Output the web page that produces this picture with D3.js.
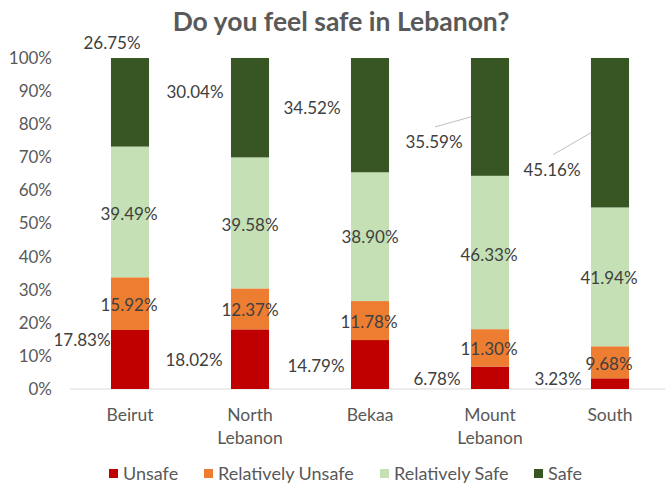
<!DOCTYPE html>
<html>
<head>
<meta charset="utf-8">
<script src="https://cdn.jsdelivr.net/npm/d3@7"></script>
<style>
  body { margin: 0; background: #fff; }
  text { font-family: Lato, "Open Sans", sans-serif; }
</style>
</head>
<body>
<div id="container"></div>
<script>
// data
var regions = ["Beirut", "North Lebanon", "Bekaa", "Mount Lebanon", "South"]
var regionLines = [["Beirut"], ["North", "Lebanon"], ["Bekaa"], ["Mount", "Lebanon"], ["South"]]
var seriesNames = ["Unsafe", "Relatively Unsafe", "Relatively Safe", "Safe"]
var unsafe = [17.83, 18.02, 14.79, 6.78, 3.23]
var relUnsafe = [15.92, 12.37, 11.78, 11.30, 9.68]
var relSafe = [39.49, 39.58, 38.90, 46.33, 41.94]
var safe = [26.75, 30.04, 34.52, 35.59, 45.16]
var yTicks = [0, 10, 20, 30, 40, 50, 60, 70, 80, 90, 100]

// label placement (excel "best fit" style), offsets from segment centre
var labelNudge = [
  [[-48, -20], [-56, 1], [-54, 1], [-53, 1], [-52, -5]],
  [[-1, 1], [0, 1], [-1, 1], [-1, 1], [-1, 2]],
  [[-1, 2], [0, 2], [0, 0], [-1, 2], [-1, 1]],
  [[-18, -59], [-55, -16], [-58, -7], [-56, 25], [-58, 37]]
]
var leaderLines = [[], [], [], [false, false, false, true, true]]

var colors = ["#c00000", "#ed7d31", "#c5e0b4", "#375623"]

var width = 665, height = 484
var margin = { top: 58, left: 70, right: -5, bottom: 95 }

var svg = d3.select("#container").append("svg")
  .attr("width", width)
  .attr("height", height)

var table = regions.map(function(r, i) {
  return { region: r, "Unsafe": unsafe[i], "Relatively Unsafe": relUnsafe[i], "Relatively Safe": relSafe[i], "Safe": safe[i] }
})

var x = d3.scaleBand()
  .domain(regions)
  .range([margin.left, width - margin.right])
  .paddingInner(0.683)
  .paddingOuter(0.3415)

var y = d3.scaleLinear()
  .domain([0, 100])
  .range([height - margin.bottom, margin.top])

// title
svg.append("text")
  .text("Do you feel safe in Lebanon?")
  .attr("x", 341)
  .attr("y", 31)
  .attr("text-anchor", "middle")
  .attr("font-weight", "bold")
  .attr("font-size", 26.5)
  .attr("fill", "#595959")

// y axis labels
var yAxis = d3.axisLeft(y).tickValues(yTicks).tickSize(0).tickPadding(18)
  .tickFormat(function(d) { return d + "%" })
svg.append("g")
  .attr("transform", "translate(" + margin.left + ",0)")
  .call(yAxis)
  .call(function(g) { g.select(".domain").remove() })
  .selectAll("text")
  .attr("font-size", 17)
  .attr("fill", "#595959")
  .attr("font-family", "Lato, 'Open Sans', sans-serif")

// baseline
svg.append("line")
  .attr("x1", margin.left).attr("x2", width)
  .attr("y1", y(0)).attr("y2", y(0))
  .attr("stroke", "#d9d9d9")
  .attr("stroke-width", 1)

var stack = d3.stack().keys(seriesNames)
var layers = stack(table)

svg.selectAll(".layer")
  .data(layers)
  .enter().append("g")
  .attr("class", "layer")
  .attr("fill", function(d, i) { return colors[i] })
  .selectAll("rect")
  .data(function(d) { return d })
  .enter().append("rect")
  .attr("x", function(d) { return x(d.data.region) })
  .attr("width", x.bandwidth())
  .attr("y", function(d) { return y(d[1]) })
  .attr("height", function(d) { return y(d[0]) - y(d[1]) })

// data labels
layers.forEach(function(layer, si) {
  layer.forEach(function(d, ri) {
    var cx = x(d.data.region) + x.bandwidth() / 2
    var cy = y((d[0] + d[1]) / 2)
    var lx = cx + labelNudge[si][ri][0]
    var ly = cy + labelNudge[si][ri][1]
    if (leaderLines[si][ri]) {
      svg.append("line")
        .attr("x1", lx + 1).attr("y1", ly - 15)
        .attr("x2", x(d.data.region)).attr("y2", cy)
        .attr("stroke", "#bfbfbf")
        .attr("stroke-width", 1)
    }
    svg.append("text")
      .text(d.data[layer.key].toFixed(2) + "%")
      .attr("x", lx)
      .attr("y", ly)
      .attr("dy", "0.36em")
      .attr("text-anchor", "middle")
      .attr("font-size", 17)
      .attr("fill", "#404040")
  })
})

// category labels
regionLines.forEach(function(lines, i) {
  var t = svg.append("text")
    .attr("text-anchor", "middle")
    .attr("font-size", 17.5)
    .attr("fill", "#595959")
  lines.forEach(function(l, k) {
    t.append("tspan")
      .attr("x", x(regions[i]) + x.bandwidth() / 2)
      .attr("y", 415 + k * 23)
      .attr("dy", "0.36em")
      .text(l)
  })
})

// legend
var legendX = [109, 204, 380, 534]
var legend = svg.selectAll(".legend")
  .data(seriesNames)
  .enter().append("g")
  .attr("class", "legend")
  .attr("transform", function(d, i) { return "translate(" + legendX[i] + ",469)" })

legend.append("rect")
  .attr("width", 9).attr("height", 9)
  .attr("fill", function(d, i) { return colors[i] })

legend.append("text")
  .text(function(d) { return d })
  .attr("x", 14)
  .attr("y", 4.5)
  .attr("dy", "0.36em")
  .attr("font-size", 18)
  .attr("fill", "#595959")
</script>
</body>
</html>
